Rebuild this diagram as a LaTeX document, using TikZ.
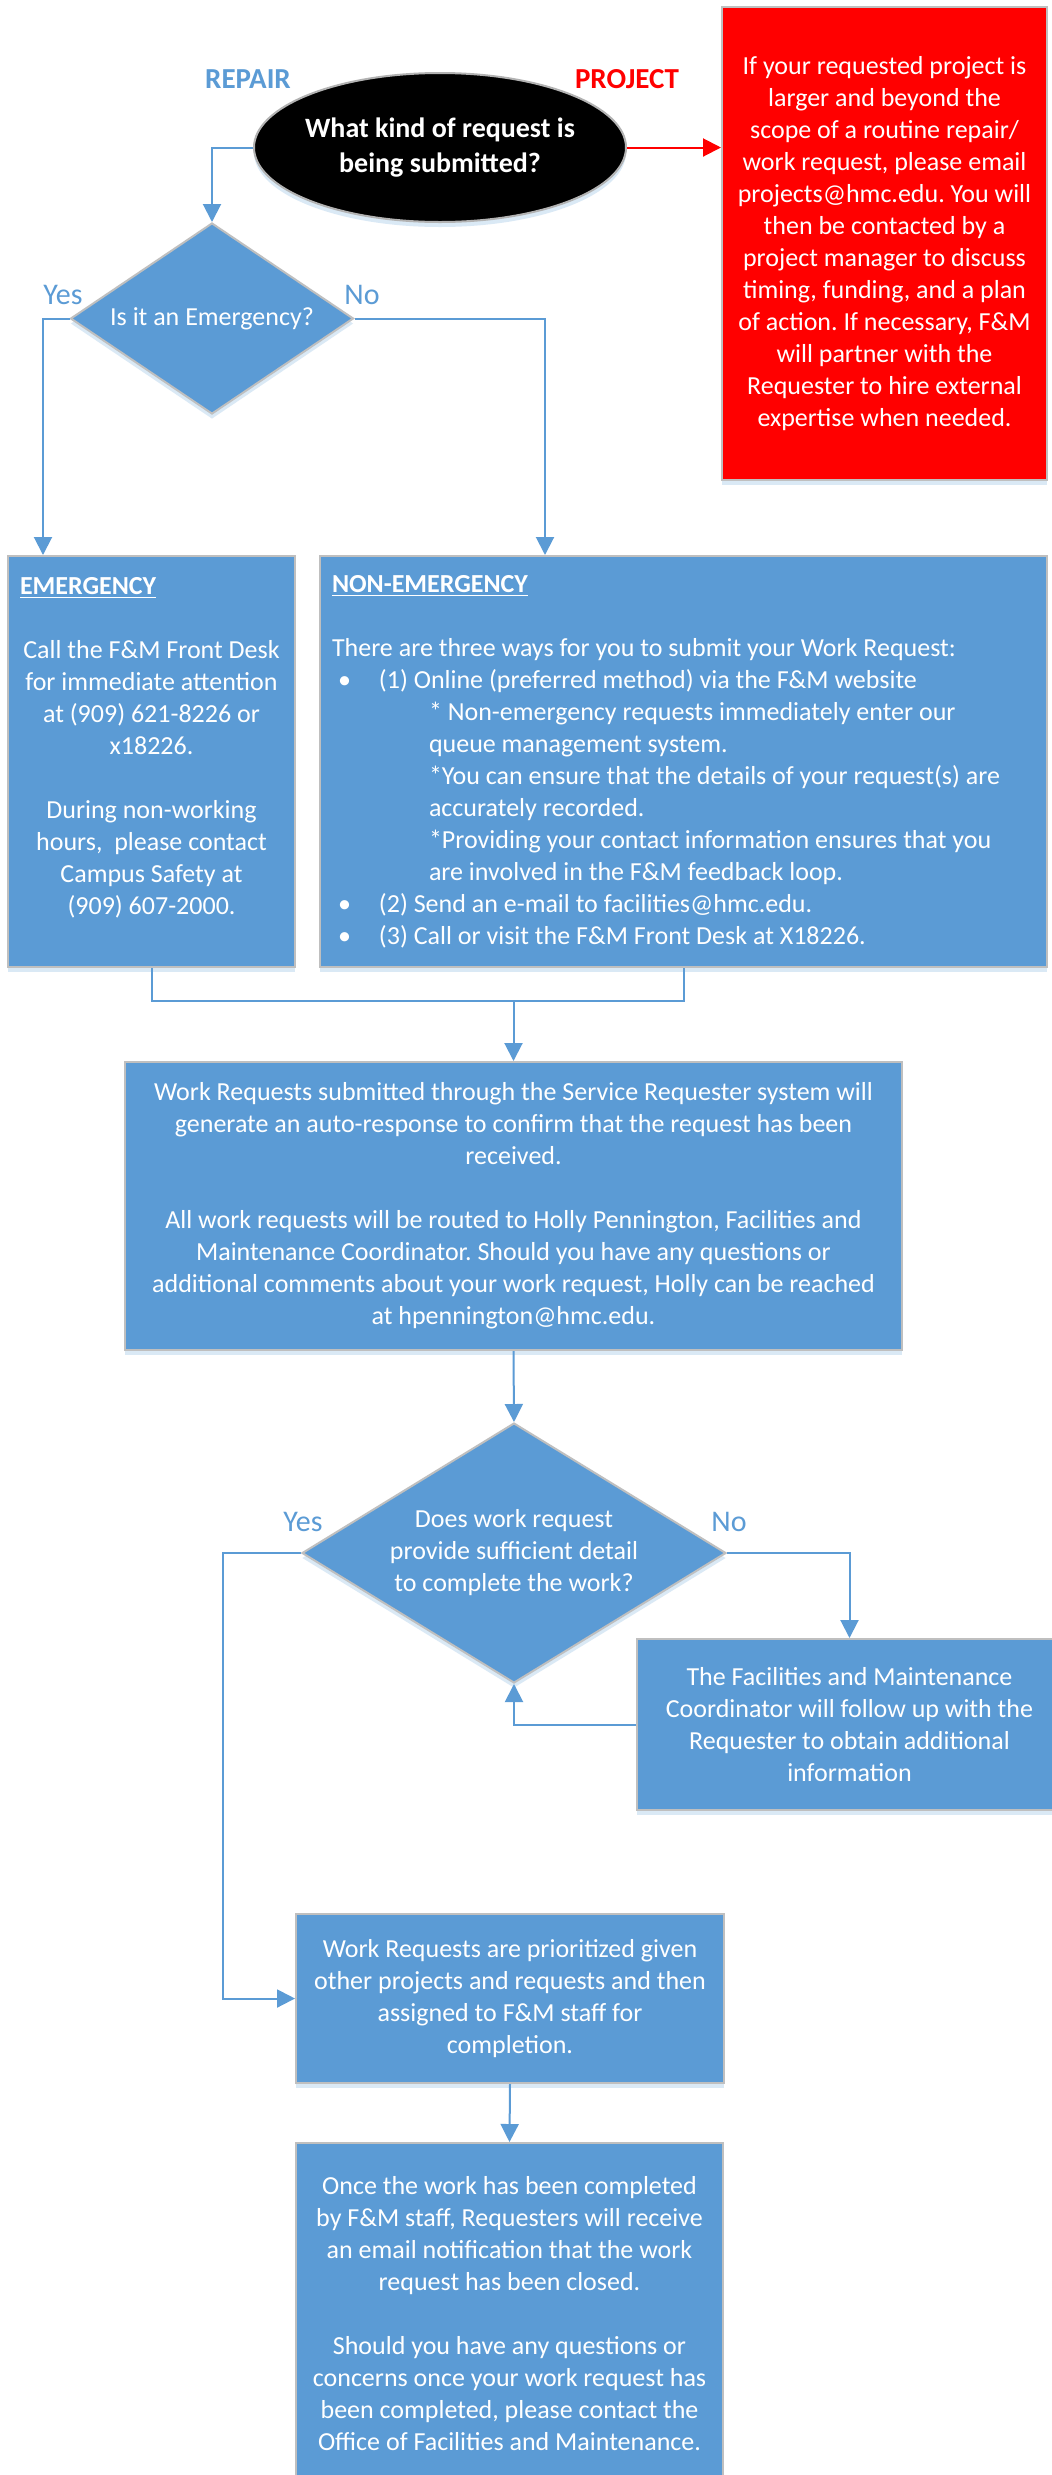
\documentclass[tikz,border=0pt]{standalone}
\usepackage{fontspec}
\setmainfont{Carlito}
\usepackage{xcolor}
\usepackage{tikz}
\usetikzlibrary{shapes.geometric, shapes.misc, arrows.meta, positioning, shadows}
\definecolor{fmblue}{RGB}{91,155,213}
\definecolor{fmred}{RGB}{255,0,0}
\frenchspacing

\begin{document}
\begin{tikzpicture}[
    x=0.5pt, y=-0.5pt,
    body/.style={font=\fontsize{13pt}{16pt}\selectfont},
    blue_box/.style={rectangle, body, draw=black!25, line width=1pt, fill=fmblue, text=white,
        inner sep=0pt, align=center,
        drop shadow={shadow xshift=0pt, shadow yshift=-2.5pt, opacity=0.22, fill=fmblue}},
    red_box/.style={blue_box, fill=fmred},
    decision/.style={diamond, body, draw=black!25, line width=1pt, fill=fmblue, text=white,
        inner sep=0pt, align=center,
        drop shadow={shadow xshift=0pt, shadow yshift=-2.5pt, opacity=0.22, fill=fmblue}},
    start_oval/.style={ellipse, draw=black!30, line width=1pt, fill=black, text=white, inner sep=0pt,
        align=center, font=\bfseries\fontsize{14pt}{17.5pt}\selectfont,
        drop shadow={shadow xshift=0pt, shadow yshift=-2.5pt, opacity=0.22, fill=fmblue}},
    branch_label/.style={font=\bfseries\fontsize{14.5pt}{17pt}\selectfont},
    answer/.style={font=\fontsize{15pt}{18pt}\selectfont, text=fmblue},
    flow_line/.style={line width=1pt, draw=fmblue},
    flow_arrow/.style={flow_line, -{Triangle[length=9pt, width=9pt]}}
]
% CANVAS
\useasboundingbox (0,0) rectangle (1051,2475);
\fill[white] (0,0) rectangle (1051,2475);

% START
\node[start_oval, minimum width=186pt, minimum height=74.5pt] (kind) at (440,147.5)
    {\makebox[0pt]{What kind of request is}\\\makebox[0pt]{being submitted?}};
\node[branch_label, text=fmblue] (repair) at (248,79) {REPAIR};
\node[branch_label, text=fmred] (project) at (627,79) {PROJECT};

\node[red_box, minimum width=162.5pt, minimum height=236.5pt] (projbox) at (884.5,243.5)
    {If your requested project is\\ larger and beyond the\\ scope of a routine repair/\\
     work request, please email\\ projects@hmc.edu. You will\\ then be contacted by a\\
     project manager to discuss\\ timing, funding, and a plan\\ of action. If necessary, F\&M\\
     will partner with the\\ Requester to hire external\\ expertise when needed.};

% EMERGENCY?
\node[decision, shape aspect=1.48, minimum width=141.5pt, minimum height=95.5pt] (emerg) at (212,318.5)
    {Is it an Emergency?};
\node[answer] (yes1) at (63,295) {Yes};
\node[answer] (no1) at (362,295) {No};

\node[blue_box, minimum width=143.5pt, minimum height=205.5pt] (embox) at (151.5,761.5)
    {\makebox[131.5pt][l]{\underline{\textbf{EMERGENCY}}}\\[16pt]
     Call the F\&M Front Desk\\ for immediate attention\\ at (909) 621-8226 or\\ x18226.\\[16pt]
     During non-working\\ hours,~ please contact\\ Campus Safety at\\ (909) 607-2000.\\ \mbox{}};

\node[blue_box, align=left, minimum width=363.5pt, minimum height=205.5pt] (nonembox) at (683.5,761.5)
    {\makebox[351.5pt][l]{\underline{\textbf{NON-EMERGENCY}}}\\[16pt]
     There are three ways for you to submit your Work Request:\\
     \hspace*{3pt}\makebox[20.5pt][l]{\textbullet}(1) Online (preferred method) via the F\&M website\\
     \hspace*{48.5pt}* Non-emergency requests immediately enter our\\
     \hspace*{48.5pt}queue management system.\\
     \hspace*{48.5pt}*You can ensure that the details of your request(s) are\\
     \hspace*{48.5pt}accurately recorded.\\
     \hspace*{48.5pt}*Providing your contact information ensures that you\\
     \hspace*{48.5pt}are involved in the F\&M feedback loop.\\
     \hspace*{3pt}\makebox[20.5pt][l]{\textbullet}(2) Send an e-mail to facilities@hmc.edu.\\
     \hspace*{3pt}\makebox[20.5pt][l]{\textbullet}(3) Call or visit the F\&M Front Desk at X18226.};

% ROUTING
\node[blue_box, minimum width=388.5pt, minimum height=144pt] (routed) at (513.5,1206)
    {Work Requests submitted through the Service Requester system will\\
     generate an auto-response to confirm that the request has been\\ received.\\[16pt]
     All work requests will be routed to Holly Pennington, Facilities and\\
     Maintenance Coordinator. Should you have any questions or\\
     additional comments about your work request, Holly can be reached\\
     at hpennington@hmc.edu.};

\node[decision, shape aspect=1.63, minimum width=212pt, minimum height=130pt] (detail) at (514,1553)
    {Does work request\\ provide sufficient detail\\ to complete the work?};
\node[answer] (yes2) at (303,1522) {Yes};
\node[answer] (no2) at (729,1522) {No};

\node[blue_box, minimum width=212.5pt, minimum height=85.5pt] (followup) at (849.5,1724.5)
    {The Facilities and Maintenance\\ Coordinator will follow up with the\\
     Requester to obtain additional\\ information};

% COMPLETION
\node[blue_box, minimum width=214pt, minimum height=84.5pt] (prior) at (510,1998.5)
    {Work Requests are prioritized given\\ other projects and requests and then\\
     assigned to F\&M staff for\\ completion.};

\node[blue_box, minimum width=213.5pt, minimum height=170.5pt] (closed) at (509.5,2313.5)
    {Once the work has been completed\\ by F\&M staff, Requesters will receive\\
     an email notification that the work\\ request has been closed.\\[16pt]
     Should you have any questions or\\ concerns once your work request has\\
     been completed, please contact the\\ Office of Facilities and Maintenance.};

% CONNECTORS
\coordinate (merge) at (513.5,1001);
\draw[flow_arrow] (kind.west) -| (emerg.north);
\draw[flow_arrow, draw=fmred] (kind.east) -- (kind.east -| projbox.west);
\draw[flow_arrow] (emerg.west) -| ([xshift=18pt]embox.north west);
\draw[flow_arrow] (emerg.east) -| ([xshift=113pt]nonembox.north west);
\draw[flow_line] (embox.south) |- (merge) -| (nonembox.south);
\draw[flow_arrow] (merge) -- (routed.north);
\draw[flow_arrow] (routed.south) -- (detail.north);
\draw[flow_arrow] (detail.east) -| (followup.north);
\draw[flow_arrow] (followup.west) -| (detail.south);
\draw[flow_arrow] (detail.west) -- ++(-78,0) |- (prior.west);
\draw[flow_arrow] (prior.south) -- (closed.north);

\end{tikzpicture}
\end{document}
